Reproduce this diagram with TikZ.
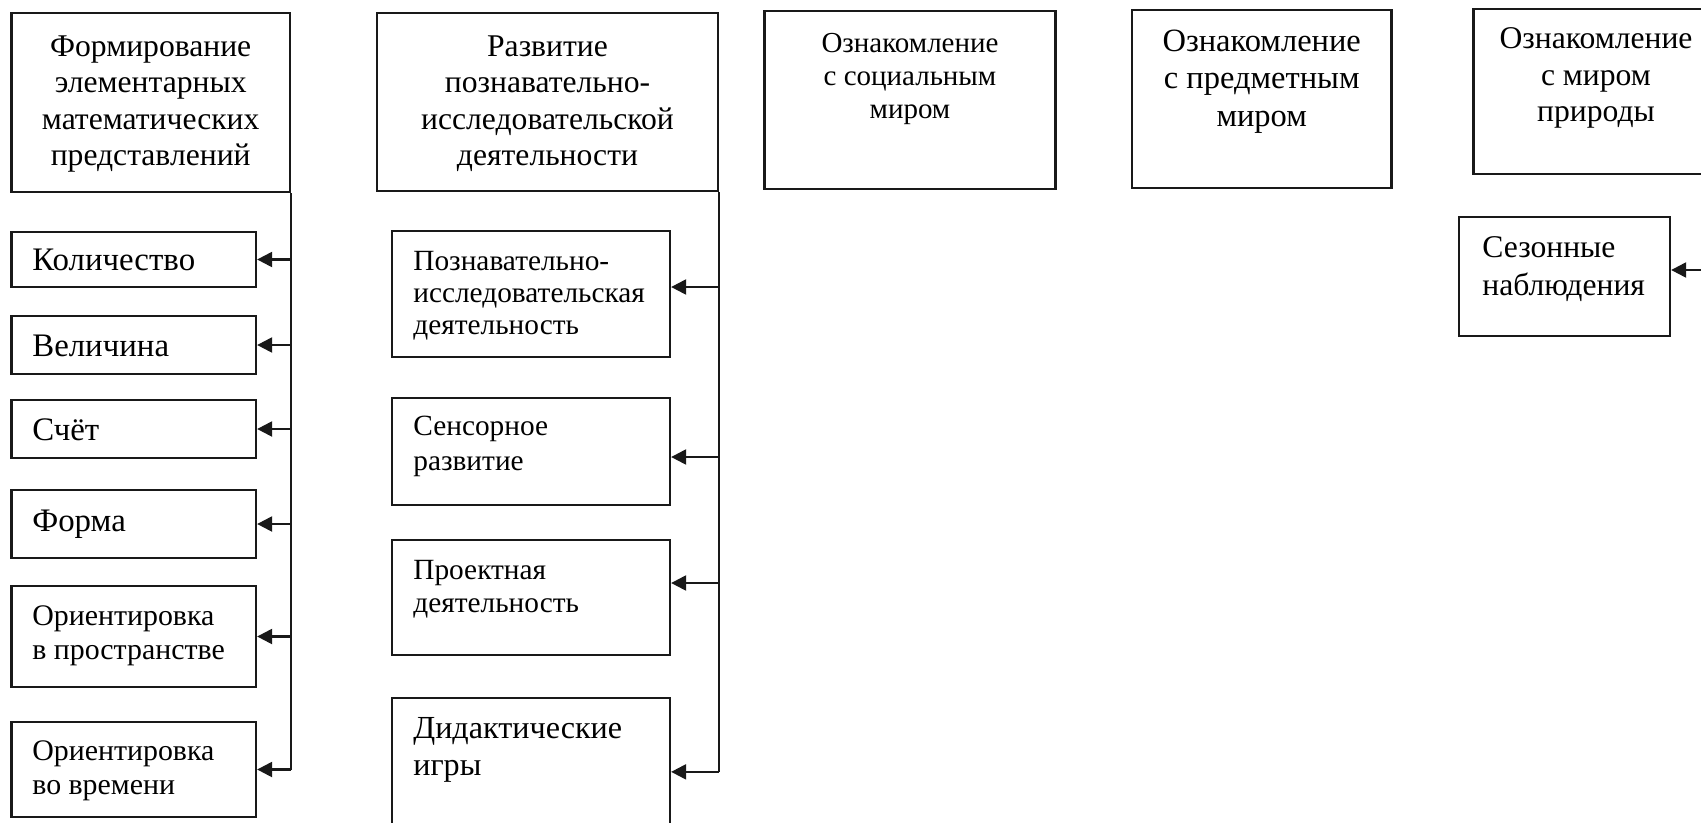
\documentclass[tikz,border=0pt]{standalone}
\usepackage{fontspec}
\setmainfont{Liberation Serif}
\usetikzlibrary{fit,calc,arrows.meta}
\begin{document}
\begin{tikzpicture}[x=0.02cm,y=-0.02cm,
  bx/.style={draw=black!90, line width=1.3pt, inner sep=0pt},
  ln/.style={draw=black!90, line width=1.3pt},
  arr/.style={ln, -{Triangle[length=8.5pt,width=8.5pt]}},
  tc/.style={anchor=north, align=center, inner sep=0pt},
  tl/.style={anchor=north west, align=left, inner sep=0pt},
  fA/.style={font=\fontsize{18}{20.8}\selectfont},
  fC/.style={font=\fontsize{16.5}{19}\selectfont},
  fD/.style={font=\fontsize{18.5}{21.3}\selectfont},
  fE/.style={font=\fontsize{18}{21}\selectfont},
  fL/.style={font=\fontsize{18.7}{19.35}\selectfont},
  fO/.style={font=\fontsize{17}{19.35}\selectfont},
  fPI/.style={font=\fontsize{16.7}{18.2}\selectfont},
  fSR/.style={font=\fontsize{16.7}{19.9}\selectfont},
  fPD/.style={font=\fontsize{16.7}{18.8}\selectfont},
  fDI/.style={font=\fontsize{18.3}{21.05}\selectfont},
  fSN/.style={font=\fontsize{18}{21.6}\selectfont}]
\useasboundingbox (0,0) rectangle (1701,822);
\fill[white] (0,0) rectangle (1701,822);
\clip (0,0) rectangle (1701,822);

% top boxes
\node[bx, fit={(11.5,13) (290,192)}] (A) {};
\node[bx, fit={(377,13) (718,191)}] (B) {};
\node[bx, fit={(764.5,11) (1055.6,189)}] (C) {};
\node[bx, fit={(1132,10) (1391.5,188)}] (D) {};
\node[bx, fit={(1473.6,9) (1720,174)}] (E) {};

\node[tc, fA] (tA) at (150.7,30.4) {\strut Формирование\\элементарных\\математических\\представлений};
\node[tc, fA] (tB) at (547.5,30.4) {\strut Развитие\\познавательно-\\исследовательской\\деятельности};
\node[tc, fC] (tC) at (910,28.5) {\strut Ознакомление\\с социальным\\миром};
\node[tc, fD] (tD) at (1261.7,24.75) {\strut Ознакомление\\с предметным\\миром};
\node[tc, fE] (tE) at (1596,22) {\strut Ознакомление\\с миром\\природы};

% left column
\node[bx, fit={(11.5,232) (256,287)}] (K) {};
\node[bx, fit={(11.5,316) (256,374)}] (V) {};
\node[bx, fit={(11.5,400) (256,458)}] (S) {};
\node[bx, fit={(11.5,490) (256,558)}] (F) {};
\node[bx, fit={(11.5,586) (256,687)}] (OP) {};
\node[bx, fit={(11.5,722) (256,817)}] (OV) {};

\node[tl, fL] (tK) at (32,246.2) {\strut Количество};
\node[tl, fL] (tV) at (32,332.2) {\strut Величина};
\node[tl, fL] (tS) at (32,416.2) {\strut Счёт};
\node[tl, fL] (tF) at (32,507.2) {\strut Форма};
\node[tl, fO] (tOP) at (32,601.2) {\strut Ориентировка\\в пространстве};
\node[tl, fO] (tOV) at (32,736.5) {\strut Ориентировка\\во времени};

% middle column
\node[bx, fit={(392,231) (670,357)}] (PI) {};
\node[bx, fit={(392,398) (670,505)}] (SR) {};
\node[bx, fit={(392,540) (670,655)}] (PD) {};
\node[bx, fit={(392,698) (670,860)}] (DI) {};

\node[tl, fPI] (tPI) at (413,247.6) {\strut Познавательно-\\исследовательская\\деятельность};
\node[tl, fSR] (tSR) at (413,410.5) {\strut Сенсорное\\развитие};
\node[tl, fPD] (tPD) at (413,556) {\strut Проектная\\деятельность};
\node[tl, fDI] (tDI) at (413,712.5) {\strut Дидактические\\игры};

% right column
\node[bx, fit={(1459,217) (1670,336)}] (SN) {};
\node[tl, fSN] (tSN) at (1482,231) {\strut Сезонные\\наблюдения};
\coordinate (eR) at (1710,270);

% spines
\draw[ln] (A.south east) -- (A.south east |- OV.east);
\draw[ln] (B.south east) -- ($(B.south east |- DI.north)+(0,75)$);

% arrows left
\draw[arr] (A.south east |- K.east) -- (K.east);
\draw[arr] (A.south east |- V.east) -- (V.east);
\draw[arr] (A.south east |- S.east) -- (S.east);
\draw[arr] (A.south east |- F.east) -- (F.east);
\draw[arr] (A.south east |- OP.east) -- (OP.east);
\draw[arr] (A.south east |- OV.east) -- (OV.east);

% arrows middle
\draw[arr] ($(B.south east |- PI.east)+(0,-7)$) -- ($(PI.east)+(0,-7)$);
\draw[arr] ($(B.south east |- SR.east)+(0,5.5)$) -- ($(SR.east)+(0,5.5)$);
\draw[arr] ($(B.south east |- PD.east)+(0,-14.5)$) -- ($(PD.east)+(0,-14.5)$);
\draw[arr] ($(B.south east |- DI.north)+(0,75)$) -- ($(DI.north east)+(0,75)$);

% arrow right
\draw[arr] (eR) -- (SN.east |- eR);
\end{tikzpicture}
\end{document}
